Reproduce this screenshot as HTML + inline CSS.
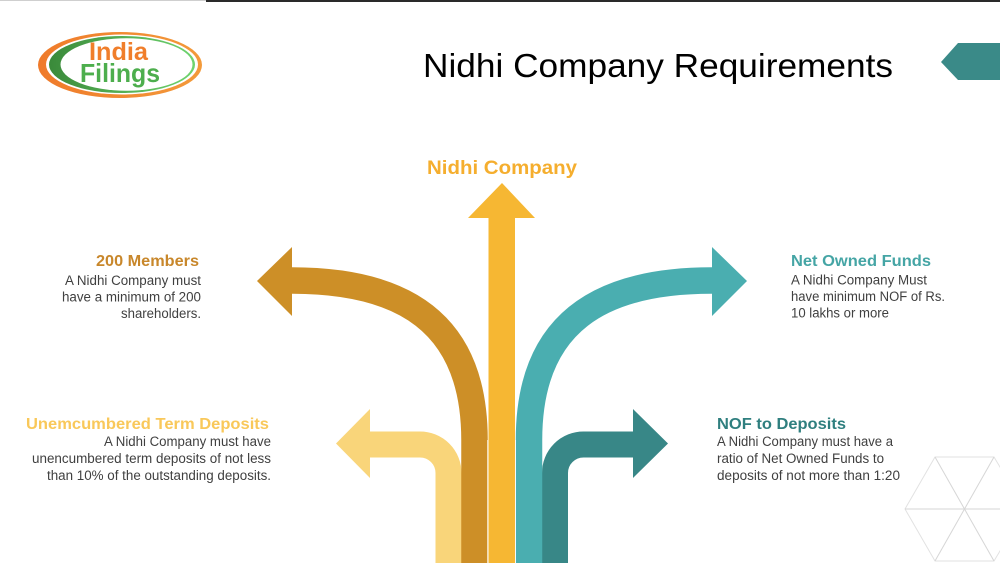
<!DOCTYPE html>
<html>
<head>
<meta charset="utf-8">
<style>
html,body{margin:0;padding:0;background:#fff;}
svg{display:block;}
text{font-family:"Liberation Sans",Arial,sans-serif;}
</style>
</head>
<body>
<svg width="1000" height="563" viewBox="0 0 1000 563" xmlns="http://www.w3.org/2000/svg">
  <defs>
    <linearGradient id="gr" x1="0" y1="0" x2="1" y2="0">
      <stop offset="0" stop-color="#3a8a3a"/>
      <stop offset="1" stop-color="#6fd46f"/>
    </linearGradient>
    <linearGradient id="or" x1="0" y1="0" x2="1" y2="0">
      <stop offset="0" stop-color="#ef7a2a"/>
      <stop offset="1" stop-color="#f39a3a"/>
    </linearGradient>
  </defs>
  <rect width="1000" height="563" fill="#fff"/>
  <!-- top line -->
  <rect x="0" y="0" width="206" height="1" fill="#cfcfcf"/>
  <rect x="206" y="0" width="794" height="2" fill="#2a2a2a"/>

  <!-- logo -->
  <ellipse cx="120" cy="65" rx="82" ry="33" fill="url(#or)"/>
  <ellipse cx="122" cy="64.5" rx="76" ry="30" fill="#fff"/>
  <ellipse cx="122" cy="64.5" rx="73" ry="28.5" fill="url(#gr)"/>
  <ellipse cx="126.5" cy="64.5" rx="66" ry="26.3" fill="#fff"/>
  <text x="89" y="60" font-size="25" font-weight="bold" fill="#f07e2b" textLength="59" lengthAdjust="spacingAndGlyphs">India</text>
  <text x="80" y="82" font-size="26" font-weight="bold" fill="#4dae4d" textLength="80" lengthAdjust="spacingAndGlyphs">Filings</text>

  <!-- title -->
  <text x="423" y="77" font-size="33" fill="#000" textLength="470" lengthAdjust="spacingAndGlyphs">Nidhi Company Requirements</text>

  <!-- top-right tab -->
  <polygon points="941,62 958,43 1000,43 1000,80 958,80" fill="#3a8a88"/>

  <!-- hexagon -->
  <g stroke="#d6d6d6" stroke-width="1" fill="none">
    <polygon points="905,509 935,457 994,457 1025,509 994,561 935,561" stroke="#e2e2e2"/>
    <line x1="905" y1="509" x2="1000" y2="509"/>
    <line x1="935" y1="457" x2="994" y2="561"/>
    <line x1="994" y1="457" x2="935" y2="561"/>
  </g>

  <!-- Nidhi Company label -->
  <text x="427" y="174" font-size="19" font-weight="bold" fill="#f5ae2e" textLength="150" lengthAdjust="spacingAndGlyphs">Nidhi Company</text>

  <!-- arrows -->
  <path d="M448.5,563 V473 A28.5,28.5 0 0 0 420,444.5 H368" stroke="#f9d57a" stroke-width="26" fill="none"/>
  <polygon points="370,409 336,443.5 370,478" fill="#f9d57a"/>
  <path d="M555,563 V473 A28.5,28.5 0 0 1 583.5,444.5 H635" stroke="#388787" stroke-width="26" fill="none"/>
  <polygon points="633,409 668,443.5 633,478" fill="#388787"/>
  <path d="M474.5,563 V440 C474.5,320 400,280.5 292,280.5 H290" stroke="#cd8f27" stroke-width="26.5" fill="none"/>
  <polygon points="292,247 257,281 292,316" fill="#cd8f27"/>
  <path d="M529,563 V440 C529,320 603.5,280.5 711.5,280.5 H714" stroke="#4aaeb0" stroke-width="26.5" fill="none"/>
  <polygon points="712,247 747,281 712,316" fill="#4aaeb0"/>
  <rect x="488.5" y="216" width="26.5" height="347" fill="#f6b733"/>
  <polygon points="468,218 502,183 535,218" fill="#f6b733"/>
  <line x1="487.7" y1="440" x2="487.7" y2="563" stroke="#fff" stroke-width="0.8"/>
  <line x1="515.5" y1="440" x2="515.5" y2="563" stroke="#fff" stroke-width="0.8"/>

  <!-- 200 Members -->
  <text x="199" y="266" font-size="16" font-weight="bold" fill="#c8872b" text-anchor="end" textLength="103" lengthAdjust="spacingAndGlyphs">200 Members</text>
  <g font-size="13.5" fill="#404040" text-anchor="end">
    <text x="201" y="285" textLength="136" lengthAdjust="spacingAndGlyphs">A Nidhi Company must</text>
    <text x="201" y="301.5" textLength="139" lengthAdjust="spacingAndGlyphs">have a minimum of 200</text>
    <text x="201" y="318" textLength="80" lengthAdjust="spacingAndGlyphs">shareholders.</text>
  </g>

  <!-- Unemcumbered -->
  <text x="269" y="429" font-size="16" font-weight="bold" fill="#f9c85a" text-anchor="end" textLength="243" lengthAdjust="spacingAndGlyphs">Unemcumbered Term Deposits</text>
  <g font-size="13.5" fill="#404040" text-anchor="end">
    <text x="271" y="446" textLength="167" lengthAdjust="spacingAndGlyphs">A Nidhi Company must have</text>
    <text x="271" y="463" textLength="239" lengthAdjust="spacingAndGlyphs">unencumbered term deposits of not less</text>
    <text x="271" y="480" textLength="224" lengthAdjust="spacingAndGlyphs">than 10% of the outstanding deposits.</text>
  </g>

  <!-- Net Owned Funds -->
  <text x="791" y="266" font-size="16" font-weight="bold" fill="#45a5a5" textLength="140" lengthAdjust="spacingAndGlyphs">Net Owned Funds</text>
  <g font-size="13.5" fill="#404040">
    <text x="791" y="284.5" textLength="136" lengthAdjust="spacingAndGlyphs">A Nidhi Company Must</text>
    <text x="791" y="301" textLength="154" lengthAdjust="spacingAndGlyphs">have minimum NOF of Rs.</text>
    <text x="791" y="317.5" textLength="98" lengthAdjust="spacingAndGlyphs">10 lakhs or more</text>
  </g>

  <!-- NOF to Deposits -->
  <text x="717" y="429" font-size="16" font-weight="bold" fill="#2f7f7f" textLength="129" lengthAdjust="spacingAndGlyphs">NOF to Deposits</text>
  <g font-size="13.5" fill="#404040">
    <text x="717" y="446" textLength="176" lengthAdjust="spacingAndGlyphs">A Nidhi Company must have a</text>
    <text x="717" y="463" textLength="167" lengthAdjust="spacingAndGlyphs">ratio of Net Owned Funds to</text>
    <text x="717" y="480" textLength="183" lengthAdjust="spacingAndGlyphs">deposits of not more than 1:20</text>
  </g>
</svg>
</body>
</html>
